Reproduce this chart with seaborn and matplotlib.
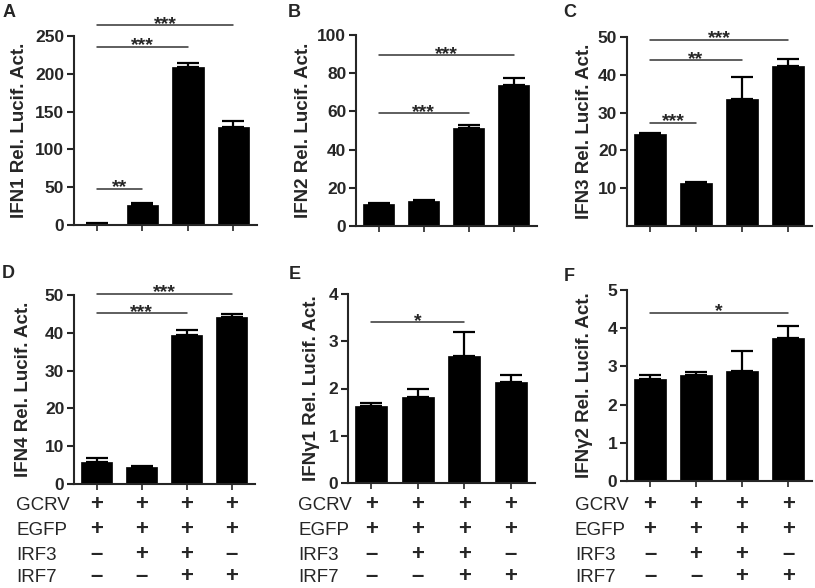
import numpy as np
import pandas as pd
import matplotlib
matplotlib.use('Agg')
import matplotlib.pyplot as plt
import matplotlib.transforms as mtrans
import seaborn as sns

sns.set_style('ticks')
plt.rcParams['font.family'] = ['Liberation Sans', 'DejaVu Sans']
plt.rcParams['axes.linewidth'] = 1.5

# -----------------------
# data

groups = ['1', '2', '3', '4']

ifn1_mean = [1.5, 27, 209, 130]
ifn1_err = [0.5, 2.5, 5, 8]
ifn2_mean = [11.5, 13, 51.5, 74]
ifn2_err = [0.8, 0.5, 1.6, 3.5]
ifn3_mean = [24.3, 11.4, 33.5, 42.3]
ifn3_err = [0.4, 0.2, 5.8, 2.0]
ifn4_mean = [5.8, 4.4, 39.4, 44.2]
ifn4_err = [1.1, 0.4, 1.4, 0.9]
ifng1_mean = [1.63, 1.81, 2.68, 2.13]
ifng1_err = [0.06, 0.18, 0.52, 0.16]
ifng2_mean = [2.67, 2.77, 2.88, 3.75]
ifng2_err = [0.11, 0.08, 0.52, 0.30]

ylabels = ['IFN1 Rel. Lucif. Act.', 'IFN2 Rel. Lucif. Act.', 'IFN3 Rel. Lucif. Act.',
	'IFN4 Rel. Lucif. Act.', 'IFNγ1 Rel. Lucif. Act.', 'IFNγ2 Rel. Lucif. Act.']
letters = ['A', 'B', 'C', 'D', 'E', 'F']

yticks = [np.arange(0, 251, 50), np.arange(0, 101, 20), np.arange(10, 51, 10),
	np.arange(0, 51, 10), np.arange(0, 5, 1), np.arange(0, 6, 1)]

# significance brackets: (from bar, to bar, height, label)
sig_a = [(0, 3, 264, '***'), (0, 2, 236, '***'), (0, 1, 47.5, '**')]
sig_b = [(0, 3, 89.4, '***'), (0, 2, 59, '***')]
sig_c = [(0, 3, 49.3, '***'), (0, 2, 43.8, '**'), (0, 1, 27.3, '***')]
sig_d = [(0, 3, 50.3, '***'), (0, 2, 45.2, '***')]
sig_e = [(0, 2, 3.4, '*')]
sig_f = [(0, 3, 4.41, '*')]

cond_names = ['GCRV', 'EGFP', 'IRF3', 'IRF7']
cond_gcrv = ['+', '+', '+', '+']
cond_egfp = ['+', '+', '+', '+']
cond_irf3 = ['–', '+', '+', '–']
cond_irf7 = ['–', '–', '+', '+']

# -----------------------

W, H = 815, 588
fig = plt.figure(figsize=(W / 100, H / 100), dpi=100)

def px_rect(left, right, top, bottom):
	return [left / W, 1 - bottom / H, (right - left) / W, (bottom - top) / H]

rects = [px_rect(74, 257, 36, 225), px_rect(356, 537, 35, 226), px_rect(627, 812, 37, 226),
	px_rect(74, 255, 295, 484), px_rect(348, 535, 294, 483), px_rect(627, 812, 290, 481)]
letter_pos = [(3, 4), (288, 4), (563, 4), (2, 265), (289, 266), (564, 268)]
ylabel_x = [-46, -44, -34, -42, -28, -34]

means = [ifn1_mean, ifn2_mean, ifn3_mean, ifn4_mean, ifng1_mean, ifng2_mean]
errs = [ifn1_err, ifn2_err, ifn3_err, ifn4_err, ifng1_err, ifng2_err]
sigs = [sig_a, sig_b, sig_c, sig_d, sig_e, sig_f]

axes = []
for i in range(6):
	ax = fig.add_axes(rects[i])
	df = pd.DataFrame({'group': groups, 'value': means[i]})
	sns.barplot(data=df, x='group', y='value', color='black', saturation=1,
		width=0.69, errorbar=None, edgecolor='black', linewidth=0.5, ax=ax)
	x = np.arange(len(groups))
	ax.errorbar(x, means[i], yerr=[np.zeros(len(groups)), errs[i]], fmt='none',
		ecolor='black', elinewidth=1.6, capsize=8, capthick=1.6, zorder=0.5)
	ax.set_xlim(-0.5, 3.52)
	ax.set_ylim(0, yticks[i][-1])
	ax.set_yticks(yticks[i])
	ax.set_xticks(x)
	ax.set_xticklabels([])
	ax.set_xlabel('')
	ax.set_ylabel(ylabels[i], fontsize=13.5, fontweight='bold')
	ax.yaxis.set_label_coords(ylabel_x[i] / (rects[i][2] * W), 0.5)
	ax.tick_params(axis='y', labelsize=12.5, width=1.5, length=5, pad=2)
	ax.tick_params(axis='x', width=1.2, length=4)
	for lab in ax.get_yticklabels():
		lab.set_fontweight('bold')
	sns.despine(ax=ax)

	for x0, x1, h, txt in sigs[i]:
		ax.plot([x0, x1], [h, h], color='#333333', lw=1.1, clip_on=False)
		ax.annotate(txt, ((x0 + x1) / 2, h), xytext=(0, -2.5), textcoords='offset points',
			ha='center', va='baseline', fontsize=14, fontweight='bold', annotation_clip=False)

	lx, ly = letter_pos[i]
	fig.text(lx / W, 1 - ly / H, letters[i], ha='left', va='top',
		fontsize=13, fontweight='bold')
	axes.append(ax)

# condition table below the lower row (text baselines in pixels)
row_base = [510, 535, 560, 582]
rows = [cond_gcrv, cond_egfp, cond_irf3, cond_irf7]
label_x = [16, 298, 575]
for j, ax in enumerate(axes[3:]):
	tr = mtrans.blended_transform_factory(ax.transData, fig.transFigure)
	for r, name in enumerate(cond_names):
		yf = 1 - row_base[r] / H
		fig.text(label_x[j] / W, yf, name, ha='left', va='baseline', fontsize=13.5)
		for k, sym in enumerate(rows[r]):
			ax.text(k, yf, sym, transform=tr, ha='center', va='baseline',
				fontsize=16, fontweight='bold', clip_on=False)

plt.savefig('out.png', dpi=100)
